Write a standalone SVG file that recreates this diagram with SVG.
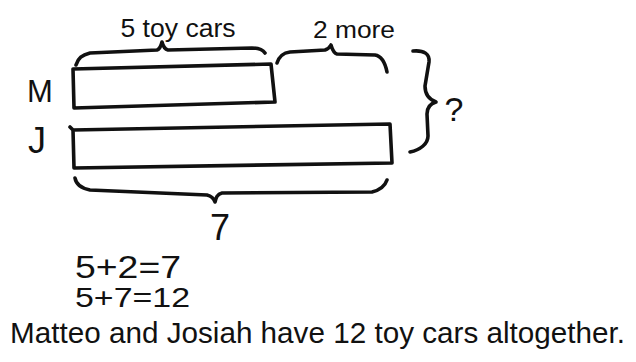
<svg xmlns="http://www.w3.org/2000/svg" width="636" height="362" viewBox="0 0 636 362">
<style>
.ink{fill:none;stroke:#111;stroke-width:3.6;stroke-linecap:round;stroke-linejoin:round}
.t{font-family:"Liberation Sans","DejaVu Sans",sans-serif;fill:#111}
</style>
<rect width="636" height="362" fill="#fff"/>
<g id="label-M"><text class="t" x="27" y="102" font-size="31">M</text></g>
<g id="label-J"><text class="t" x="28" y="153" font-size="36">J</text></g>
<g id="bar-M"><path class="ink" d="M73,69 L271,64 L275,102 L74,108 Z"/></g>
<g id="bar-J"><path class="ink" d="M70,127 L73,130 L390,124 L392,163 L74,168 L73,130"/></g>
<g id="label-5toycars"><text class="t" x="178" y="37" font-size="26" text-anchor="middle" textLength="115" lengthAdjust="spacingAndGlyphs">5 toy cars</text></g>
<g id="label-2more"><text class="t" x="354" y="38" font-size="23" text-anchor="middle" textLength="82" lengthAdjust="spacingAndGlyphs">2 more</text></g>
<g id="label-7"><text class="t" x="220" y="240" font-size="36" text-anchor="middle">7</text></g>
<g id="label-q"><text class="t" x="454" y="121" font-size="34" text-anchor="middle">?</text></g>
<g id="connectors">
<path class="ink" d="M76,65 C78,58 82,55 90,53 L157,50 C160,49 161,46 162,42 C163,46 164,49 168,50 L252,48 C258,48 263,50 265,53"/>
<path class="ink" d="M277,63 C279,57 282,53 290,52 L325,50 C328,49 330,47 331,45 C332,48 333,53 337,54 L375,55 C382,56 385,62 387,72"/>
<path class="ink" d="M75,178 C76,184 80,188 90,190 L207,195 C211,196 214,199 215,202 C216,198 217,194 222,193 L372,192 C380,190 385,186 387,180"/>
<path class="ink" d="M413,51 C424,50 430,54 429,62 L425,86 C425,94 428,99 436,102 C429,104 427,108 427,114 L428,136 C428,144 420,150 410,152"/>
</g>
<g id="equations">
<text class="t" x="75" y="278" font-size="31" textLength="106" lengthAdjust="spacingAndGlyphs">5+2=7</text>
<text class="t" x="75" y="307" font-size="28" textLength="115" lengthAdjust="spacingAndGlyphs">5+7=12</text>
<text class="t" x="10" y="343" font-size="30" textLength="615" lengthAdjust="spacingAndGlyphs">Matteo and Josiah have 12 toy cars altogether.</text>
</g>
</svg>
